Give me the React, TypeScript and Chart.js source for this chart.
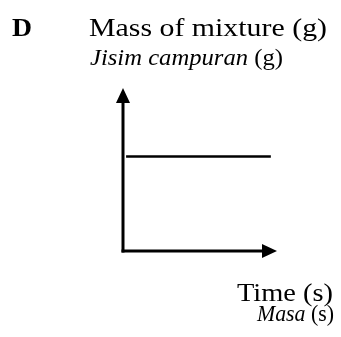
import React, { useEffect, useRef } from "react";
import { Chart, registerables } from "chart.js";

Chart.register(...registerables);

// Data (arbitrary units: constant mass over time)
const timeValues = [0.2, 9.6];
const massValues = [5.8, 5.8];

// Text labels
const optionLetter = "D";
const yTitleEn = "Mass of mixture (g)";
const yTitleMsItalic = "Jisim campuran";
const yTitleMsUnit = " (g)";
const xTitleEn = "Time (s)";
const xTitleMsItalic = "Masa";
const xTitleMsUnit = " (s)";

const SERIF = "'Liberation Serif', 'Times New Roman', serif";

type Seg = { text: string; font: string };

function drawSegs(ctx: CanvasRenderingContext2D, segs: Seg[], left: number, baseline: number, width: number) {
  let total = 0;
  for (const s of segs) {
    ctx.font = s.font;
    total += ctx.measureText(s.text).width;
  }
  const sx = width / total;
  ctx.save();
  ctx.translate(left, baseline);
  ctx.scale(sx, 1);
  let x = 0;
  ctx.fillStyle = "#000";
  ctx.textBaseline = "alphabetic";
  ctx.textAlign = "left";
  for (const s of segs) {
    ctx.font = s.font;
    ctx.fillText(s.text, x, 0);
    x += ctx.measureText(s.text).width;
  }
  ctx.restore();
}

const decorPlugin = {
  id: "decor",
  afterDraw(chart: any) {
    const ctx: CanvasRenderingContext2D = chart.ctx;
    const a = chart.chartArea;
    const lw = 3;
    const head = 15;
    const half = 7;
    ctx.save();
    ctx.strokeStyle = "#000";
    ctx.fillStyle = "#000";
    ctx.lineWidth = lw;
    ctx.lineCap = "butt";
    // vertical axis
    ctx.beginPath();
    ctx.moveTo(a.left, a.bottom + lw / 2);
    ctx.lineTo(a.left, a.top + head - 1);
    ctx.stroke();
    // horizontal axis
    ctx.beginPath();
    ctx.moveTo(a.left - lw / 2, a.bottom);
    ctx.lineTo(a.right - head + 1, a.bottom);
    ctx.stroke();
    // arrowheads
    ctx.beginPath();
    ctx.moveTo(a.left, a.top);
    ctx.lineTo(a.left - half, a.top + head);
    ctx.lineTo(a.left + half, a.top + head);
    ctx.closePath();
    ctx.fill();
    ctx.beginPath();
    ctx.moveTo(a.right, a.bottom);
    ctx.lineTo(a.right - head, a.bottom - half);
    ctx.lineTo(a.right - head, a.bottom + half);
    ctx.closePath();
    ctx.fill();
    ctx.restore();

    // texts
    drawSegs(ctx, [{ text: optionLetter, font: `bold 26px ${SERIF}` }], 12, 36, 20);
    drawSegs(ctx, [{ text: yTitleEn, font: `26px ${SERIF}` }], 89, 36, 238);
    drawSegs(
      ctx,
      [
        { text: yTitleMsItalic, font: `italic 23px ${SERIF}` },
        { text: yTitleMsUnit, font: `23px ${SERIF}` },
      ],
      90,
      65,
      193
    );
    drawSegs(ctx, [{ text: xTitleEn, font: `26px ${SERIF}` }], 237, 301, 96);
    drawSegs(
      ctx,
      [
        { text: xTitleMsItalic, font: `italic 23px ${SERIF}` },
        { text: xTitleMsUnit, font: `23px ${SERIF}` },
      ],
      257,
      321,
      77
    );
  },
};

export default function App() {
  const ref = useRef<HTMLCanvasElement | null>(null);
  useEffect(() => {
    if (!ref.current) return;
    let chart: Chart | null = null;
    let cancelled = false;
    const make = () => {
      if (cancelled || !ref.current) return;
      chart = new Chart(ref.current, {
        type: "line",
        data: {
          datasets: [
            {
              data: timeValues.map((t, i) => ({ x: t, y: massValues[i] })),
              borderColor: "#000",
              borderWidth: 2.5,
              pointRadius: 0,
              fill: false,
              tension: 0,
            },
          ],
        },
        options: {
          animation: false,
          responsive: false,
          devicePixelRatio: 1,
          layout: { padding: { left: 123, top: 88, right: 64, bottom: 86 } },
          plugins: { legend: { display: false }, tooltip: { enabled: false }, title: { display: false } },
          scales: {
            x: { type: "linear", min: 0, max: 10, display: false },
            y: { type: "linear", min: 0, max: 10, display: false },
          },
        },
        plugins: [decorPlugin],
      });
    };
    const fonts: any = (document as any).fonts;
    if (fonts && fonts.load) {
      Promise.all([
        fonts.load(`26px ${SERIF}`),
        fonts.load(`italic 23px ${SERIF}`),
        fonts.load(`bold 26px ${SERIF}`),
      ])
        .catch(() => null)
        .then(make);
    } else {
      make();
    }
    return () => {
      cancelled = true;
      if (chart) chart.destroy();
    };
  }, []);
  return (
    <div style={{ position: "absolute", left: 0, top: 0, width: 341, height: 337, background: "#fff" }}>
      <canvas ref={ref} width={341} height={337} style={{ display: "block" }} />
      <span style={{ position: "absolute", left: -1000, top: 0, fontFamily: SERIF }}>
        <span>a</span>
        <i>a</i>
        <b>a</b>
      </span>
    </div>
  );
}
